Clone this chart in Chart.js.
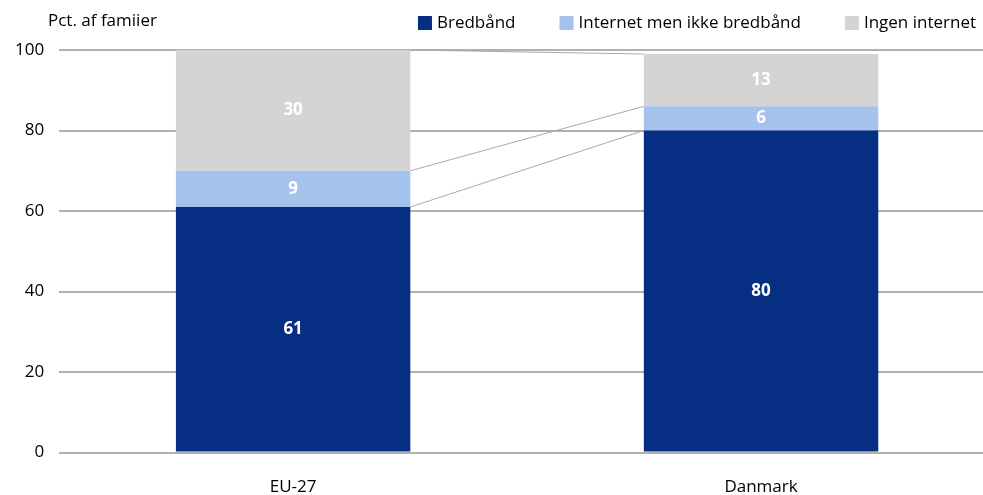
<!DOCTYPE html>
<html><head><meta charset="utf-8">
<script src="https://cdn.jsdelivr.net/npm/chart.js@4"></script>
<style>html,body{margin:0;padding:0;background:#fff;overflow:hidden}#wrap{width:995px;height:513px;position:relative}</style>
</head><body><div id="wrap"><canvas id="c"></canvas></div>
<script>
const categories = ['EU-27', 'Danmark'];
const bredbaand = [61, 80];
const internetIkkeBredbaand = [9, 6];
const ingenInternet = [30, 13];
const seriesNames = ['Bredbånd', 'Internet men ikke bredbånd', 'Ingen internet'];
const seriesColors = ['#062e82', '#a5c2ec', '#d4d4d4'];
const yTicks = [0, 20, 40, 60, 80, 100];
const yTitle = 'Pct. af famiier';

const FONT = "'Open Sans', 'Noto Sans', sans-serif";

const extras = {
  id: 'extras',
  beforeDatasetsDraw(chart) {
    const ctx = chart.ctx, y = chart.scales.y;
    const m0 = chart.getDatasetMeta(0).data;
    const x1 = m0[0].x + m0[0].width / 2, x2 = m0[1].x - m0[1].width / 2;
    let c1 = 0, c2 = 0;
    const stacks = [bredbaand, internetIkkeBredbaand, ingenInternet];
    ctx.save();
    ctx.strokeStyle = '#a9a9a9';
    ctx.lineWidth = 1;
    stacks.forEach(s => {
      c1 += s[0]; c2 += s[1];
      ctx.beginPath();
      ctx.moveTo(x1, y.getPixelForValue(c1));
      ctx.lineTo(x2, y.getPixelForValue(c2));
      ctx.stroke();
    });
    ctx.restore();
  },
  afterDatasetsDraw(chart) {
    const ctx = chart.ctx;
    ctx.save();
    // data labels
    ctx.fillStyle = '#fff';
    ctx.font = "bold 17px " + FONT;
    ctx.textAlign = 'center';
    ctx.textBaseline = 'middle';
    chart.data.datasets.forEach((ds, i) => {
      chart.getDatasetMeta(i).data.forEach((bar, j) => {
        ctx.fillText(String(ds.data[j]), bar.x, (bar.y + bar.base) / 2);
      });
    });
    // axis title
    ctx.fillStyle = '#000';
    ctx.font = "17px " + FONT;
    ctx.textAlign = 'left';
    ctx.fillText(yTitle, 48, 21);
    // legend, laid out right to left
    let xr = 976;
    const yc = 23, box = 14, gapBoxText = 5, gapItems = 44;
    for (let i = seriesNames.length - 1; i >= 0; i--) {
      const w = ctx.measureText(seriesNames[i]).width;
      const tx = xr - w;
      ctx.fillStyle = '#000';
      ctx.fillText(seriesNames[i], tx, yc);
      const bx = tx - gapBoxText - box;
      ctx.fillStyle = seriesColors[i];
      ctx.fillRect(bx, yc - box / 2, box, box);
      xr = bx - gapItems;
    }
    ctx.restore();
  }
};

new Chart(document.getElementById('c'), {
  type: 'bar',
  data: {
    labels: categories,
    datasets: [
      { label: seriesNames[0], data: bredbaand, backgroundColor: seriesColors[0] },
      { label: seriesNames[1], data: internetIkkeBredbaand, backgroundColor: seriesColors[1] },
      { label: seriesNames[2], data: ingenInternet, backgroundColor: seriesColors[2] }
    ]
  },
  options: {
    responsive: true,
    maintainAspectRatio: false,
    animation: false,
    datasets: { bar: { barPercentage: 1, categoryPercentage: 0.501 } },
    layout: { padding: { left: 0, right: 0, top: 50, bottom: 0 } },
    plugins: {
      legend: { display: false },
      tooltip: { enabled: false }
    },
    scales: {
      x: {
        stacked: true,
        grid: { display: false },
        border: { display: false },
        ticks: { color: '#000', font: { family: FONT, size: 17 }, padding: 16 }
      },
      y: {
        stacked: true,
        min: 0, max: 100,
        afterBuildTicks(axis) { axis.ticks = yTicks.map(v => ({ value: v })); },
        grid: { color: '#b0b0b0', lineWidth: 2, drawTicks: false },
        border: { display: false },
        ticks: { color: '#000', font: { family: FONT, size: 17 }, padding: 15 }
      }
    }
  },
  plugins: [extras]
});
</script></body></html>
